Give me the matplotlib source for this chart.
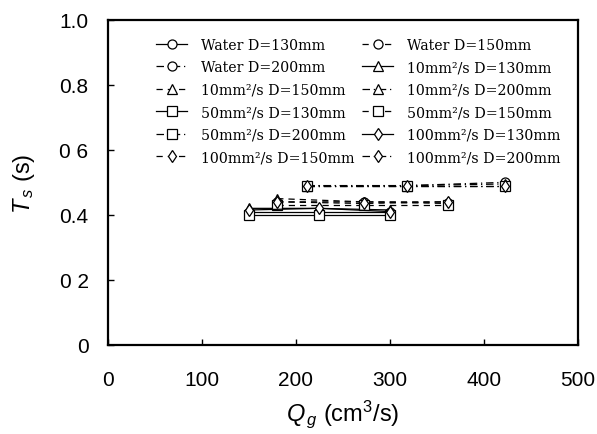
import matplotlib
matplotlib.use("Agg")
import matplotlib.pyplot as plt

plt.rcParams["mathtext.fontset"] = "custom"
plt.rcParams["mathtext.it"] = "Liberation Sans:italic"
plt.rcParams["mathtext.rm"] = "Liberation Sans"

# flow rate Q_g (cm3/s) per nozzle diameter
q_130 = [150, 225, 300]
q_150 = [180, 272, 362]
q_200 = [212, 318, 422]

# T_s (s) for each fluid / diameter
water_130 = [0.41, 0.41, 0.41]
water_150 = [0.44, 0.44, 0.435]
water_200 = [0.49, 0.49, 0.50]
v10_130 = [0.42, 0.42, 0.415]
v10_150 = [0.45, 0.44, 0.44]
v10_200 = [0.49, 0.49, 0.495]
v50_130 = [0.40, 0.40, 0.40]
v50_150 = [0.43, 0.43, 0.43]
v50_200 = [0.49, 0.49, 0.49]
v100_130 = [0.415, 0.42, 0.41]
v100_150 = [0.44, 0.435, 0.44]
v100_200 = [0.49, 0.49, 0.49]

labels = ["Water D=130mm", "Water D=150mm", "Water D=200mm",
          "10mm²/s D=130mm", "10mm²/s D=150mm", "10mm²/s D=200mm",
          "50mm²/s D=130mm", "50mm²/s D=150mm", "50mm²/s D=200mm",
          "100mm²/s D=130mm", "100mm²/s D=150mm", "100mm²/s D=200mm"]
xs = [q_130, q_150, q_200] * 4
ys = [water_130, water_150, water_200, v10_130, v10_150, v10_200,
      v50_130, v50_150, v50_200, v100_130, v100_150, v100_200]
markers = ["o"] * 3 + ["^"] * 3 + ["s"] * 3 + ["d"] * 3
styles = ["-", (0, (5, 4)), (0, (6, 3, 1, 3))] * 4

yticks = [0, 0.2, 0.4, 0.6, 0.8, 1.0]
ytick_labels = ["0", "0 2", "0.4", "0 6", "0.8", "1.0"]
xticks = [0, 100, 200, 300, 400, 500]

fig = plt.figure(figsize=(5.97, 4.35), dpi=100)
ax = fig.add_axes([0.181, 0.205, 0.787, 0.747])

handles = []
for x, y, lab, m, ls in zip(xs, ys, labels, markers, styles):
    h, = ax.plot(x, y, linestyle=ls, color="black", linewidth=0.9, marker=m,
                 markersize=6.5, markerfacecolor="white", markeredgecolor="black",
                 markeredgewidth=0.9, label=lab)
    handles.append(h)

ax.set_xlim(0, 500)
ax.set_ylim(0, 1.0)
ax.set_xticks(xticks)
ax.set_xticklabels([str(t) for t in xticks])
ax.set_yticks(yticks)
ax.set_yticklabels(ytick_labels)
ax.tick_params(axis="x", direction="in", length=4, width=1, labelsize=15, pad=18)
ax.tick_params(axis="y", direction="in", length=4, width=1, labelsize=15, pad=14)
for lbl in ax.get_xticklabels() + ax.get_yticklabels():
    lbl.set_fontfamily("Liberation Sans")
for s in ax.spines.values():
    s.set_linewidth(1.6)

ax.set_xlabel(r"$Q_{\,g}$ (cm$^3$/s)", fontsize=17, family="Liberation Sans", labelpad=6)
ax.set_ylabel(r"$T_{\,s}$ (s)", fontsize=17, family="Liberation Sans", labelpad=16)

# legend reads row by row in the original
order = list(range(0, 12, 2)) + list(range(1, 12, 2))
ax.legend([handles[i] for i in order], [labels[i] for i in order],
          ncol=2, frameon=False, loc="upper left", bbox_to_anchor=(0.075, 0.985),
          prop={"family": "DejaVu Serif", "size": 10.2}, handlelength=2.2,
          handletextpad=1.0, columnspacing=0.5, labelspacing=0.6)

fig.savefig("out.png", dpi=100)
